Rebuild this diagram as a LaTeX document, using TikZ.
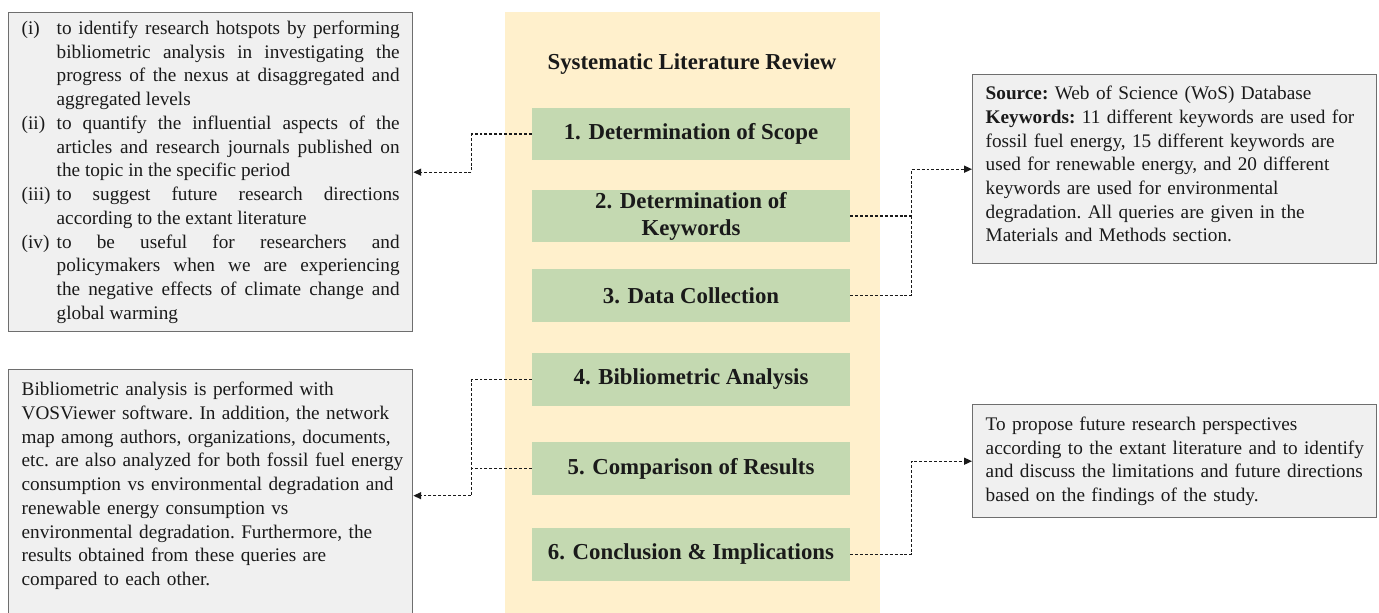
\documentclass[tikz,border=0pt]{standalone}
\usepackage{fontspec}
\setmainfont{Liberation Serif}
\usepackage{tikz}
\usetikzlibrary{positioning, calc}
\usetikzlibrary{arrows.meta}
\tikzset{>=stealth}
\usepackage{xcolor}
\definecolor{slryellow}{HTML}{FFF0CC}
\definecolor{stepgreen}{HTML}{C4D9B1}
\definecolor{boxgray}{HTML}{F0F0F0}
\definecolor{boxedge}{HTML}{6E6E6E}
\definecolor{inkblack}{HTML}{1A1A1A}
\newcommand{\bodysize}{\fontsize{10.95}{13.5}\selectfont\frenchspacing\hyphenpenalty=10000}
\newcommand{\itemlab}[1]{\makebox[0.7cm][l]{#1}}
\newcommand{\hanging}{\hangindent=0.7cm\hangafter=1\noindent}
\newcommand{\looseright}{\rightskip=-0.3cm plus 1fil\relax}

\tikzset{
	stepbox/.style={fill=stepgreen, minimum width=6.36cm, minimum height=1.06cm, inner sep=0pt, align=center, text=inkblack, font=\fontsize{13}{15.4}\selectfont\bfseries},
	infobox/.style={draw=boxedge, line width=0.8pt, fill=boxgray, anchor=north west, text width=7.56cm, inner xsep=0.26cm, inner ysep=0pt, text=inkblack, font=\bodysize},
	joint/.style={dash pattern=on 1.7pt off 1.1pt, line width=0.7pt, inkblack},
	link/.style={joint, -{Triangle[length=4.5pt,width=4pt]}},
}

\begin{document}
\begin{tikzpicture}[x=0.02cm, y=-0.02cm]
			\useasboundingbox (0,0) rectangle (1379,612);
			\fill[slryellow] (505,12) rectangle (880,620);
			\node[text=inkblack, font=\fontsize{13}{15.4}\selectfont\bfseries] (title) at (692,64) {Systematic Literature Review};
			\node[stepbox] (s1) at (691,134) {1. Determination of Scope};
			\node[stepbox] (s2) at (691,216) {2. Determination of\\Keywords};
			\node[stepbox] (s3) at (691,295.5) {3. Data Collection};
			\node[stepbox] (s4) at (691,379.5) {4. Bibliometric Analysis};
			\node[stepbox] (s5) at (691,468.5) {5. Comparison of Results};
			\node[stepbox] (s6) at (691,554.5) {6. Conclusion \& Implications};
			\node[infobox, align=justify, minimum height=6.38cm] (aims) at (8,12) {%
				\hanging\itemlab{(i)}to identify research hotspots by performing\linebreak bibliometric analysis in investigating the\linebreak progress of the nexus at disaggregated and\linebreak aggregated levels\par
				\hanging\itemlab{(ii)}to quantify the influential aspects of the\linebreak articles and research journals published on\linebreak the topic in the specific period\par
				\hanging\itemlab{(iii)}to suggest future research directions\linebreak according to the extant literature\par
				\hanging\itemlab{(iv)}to be useful for researchers and\linebreak policymakers when we are experiencing\linebreak the negative effects of climate change and\linebreak global warming\par};
			\node[infobox, align=left, minimum height=3.78cm] (source) at (972,74) {\looseright\textbf{Source:} Web of Science (WoS) Database\\\textbf{Keywords:} 11 different keywords are used for\\fossil fuel energy, 15 different keywords are\\used for renewable energy, and 20 different\\keywords are used for environmental\\degradation. All queries are given in the\\Materials and Methods section.\par\vspace{0.2cm}};
			\node[infobox, align=left, minimum height=5.04cm] (method) at (8,369) {\looseright Bibliometric analysis is performed with\\VOSViewer software. In addition, the network\\map among authors, organizations, documents,\\etc. are also analyzed for both fossil fuel energy\\consumption vs environmental degradation and\\renewable energy consumption vs\\environmental degradation. Furthermore, the\\results obtained from these queries are\\compared to each other.\\\mbox{}};
			\node[infobox, align=left, minimum height=2.26cm] (future) at (972,404) {\looseright To propose future research perspectives\\according to the extant literature and to identify\\and discuss the limitations and future directions\\based on the findings of the study.};
			\draw[link] (s1.west) -- ++(-60,0) |- (aims.east);
			\draw[link] (s4.west) -- ++(-60,0) coordinate (bj) |- (method.east);
			\draw[joint] (s5.west) -- (s5.west -| bj);
			\draw[link] (s2.east) -- ++(61,0) coordinate (kj) |- (source.west);
			\draw[joint] (s3.east) -| (kj);
			\draw[link] (s6.east) -- ++(61,0) |- (future.west);
		\end{tikzpicture}
\end{document}
